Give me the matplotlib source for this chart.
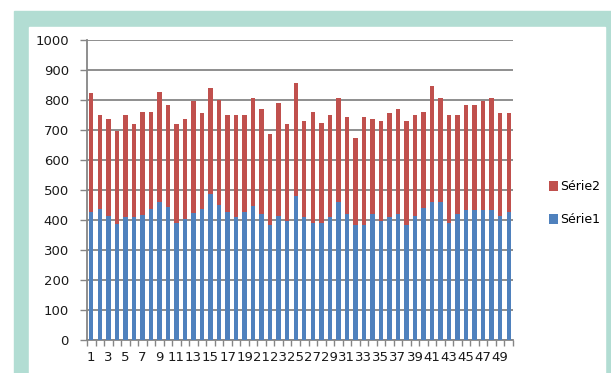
import numpy as np
import matplotlib.pyplot as plt
from matplotlib.patches import Rectangle

# valeurs
categories = list(range(1, 51))
serie1 = [428, 436, 414, 386, 411, 411, 417, 436, 461, 444,
          391, 402, 422, 436, 487, 450, 428, 411, 428, 448,
          420, 383, 414, 397, 480, 409, 389, 389, 409, 461,
          420, 383, 383, 420, 397, 409, 420, 383, 414, 441,
          461, 461, 389, 420, 433, 433, 433, 433, 414, 428]
serie2 = [394, 314, 322, 311, 339, 308, 344, 325, 367, 339,
          328, 334, 375, 320, 352, 350, 322, 339, 322, 360,
          349, 303, 375, 322, 378, 322, 372, 335, 341, 345,
          324, 289, 359, 316, 334, 347, 349, 347, 336, 320,
          386, 345, 361, 330, 349, 349, 364, 373, 342, 328]
yticks = list(range(0, 1001, 100))

blue = '#4f81bd'
red = '#c0504d'
grid = '#868686'

plt.rcParams['font.family'] = ['DejaVu Sans']

W, H = 611, 373
fig = plt.figure(figsize=(W / 100, H / 100), dpi=100)
fig.patch.set_facecolor('white')

# cadre vert d'eau autour du graphique
fig.patches.append(Rectangle((14 / W, 0), (W - 14) / W, (H - 11) / H,
                             transform=fig.transFigure, color='#b2ddd3', zorder=-2))
fig.patches.append(Rectangle((29 / W, 0), (605 - 29) / W, (H - 27) / H,
                             transform=fig.transFigure, color='white', zorder=-1))

ax = fig.add_axes([87 / W, 1 - 340 / H, (513 - 87) / W, 300 / H])
ax.set_zorder(5)
ax.set_facecolor('none')

x = np.arange(len(categories))
b1 = ax.bar(x, serie1, width=0.52, color=blue, label='Série1', zorder=3)
b2 = ax.bar(x, serie2, width=0.52, bottom=serie1, color=red, label='Série2', zorder=3)

ax.set_xlim(-0.5, len(categories) - 0.5)
ax.set_ylim(0, 1000)
ax.set_yticks(yticks)
ax.yaxis.grid(True, color=grid, linewidth=1.3, zorder=1)
ax.set_axisbelow(True)
ax.tick_params(axis='y', length=5, width=1, color=grid, pad=8, labelsize=9.5,
               labelcolor='#1a1a1a')

# etiquettes 1, 3, 5 ... ; graduations entre les categories
ax.set_xticks(x[::2])
ax.set_xticklabels([str(c) for c in categories[::2]])
ax.set_xticks(np.arange(len(categories) + 1) - 0.5, minor=True)
ax.tick_params(axis='x', which='major', length=0, pad=8, labelsize=9.5,
               labelcolor='#1a1a1a')
ax.tick_params(axis='x', which='minor', length=4, width=1, color=grid)

for s in ['top', 'right']:
    ax.spines[s].set_visible(False)
for s in ['left', 'bottom']:
    ax.spines[s].set_color(grid)
    ax.spines[s].set_linewidth(1.3)

fig.legend([b2, b1], ['Série2', 'Série1'], loc='center left',
           bbox_to_anchor=(538 / W, 1 - 203 / H), frameon=False,
           fontsize=9, handlelength=0.7, handleheight=0.9,
           handletextpad=0.2, labelspacing=1.6)

fig.savefig('out.png', dpi=100)
